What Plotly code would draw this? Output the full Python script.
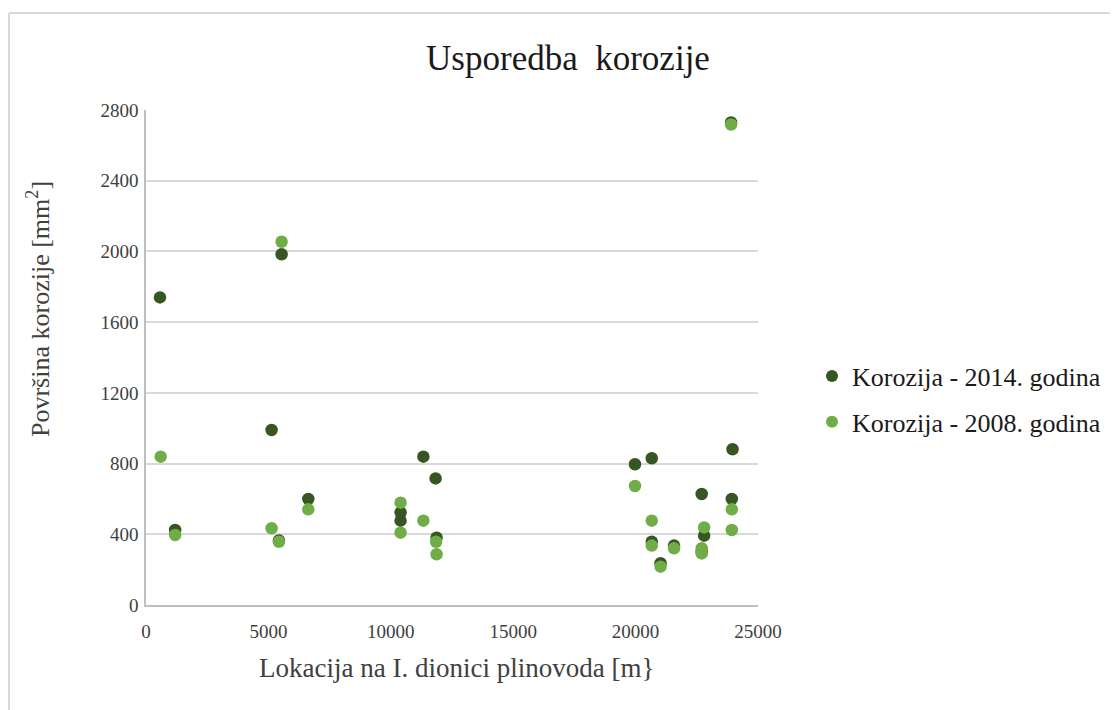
import plotly.graph_objects as go

# Korozija - 2014. godina
x_2014 = [570, 1190, 5130, 5430, 5540, 6630, 10400, 10400, 11330, 11830, 11870,
          19975, 20660, 20660, 21020, 21570, 22700, 22700, 22800, 23930, 23960, 23900]
y_2014 = [1740, 424, 990, 365, 1984, 600, 524, 477, 839, 716, 381,
          796, 830, 358, 236, 336, 628, 300, 392, 600, 881, 2730]

# Korozija - 2008. godina
x_2008 = [600, 1190, 5130, 5430, 5540, 6630, 10400, 10400, 11330, 11850, 11870,
          19975, 20660, 20660, 21020, 21570, 22700, 22700, 22800, 23930, 23930, 23900]
y_2008 = [839, 396, 434, 358, 2055, 541, 579, 409, 477, 358, 287,
          673, 477, 336, 217, 321, 321, 292, 439, 541, 424, 2718]

y_ticks = [0, 400, 800, 1200, 1600, 2000, 2400, 2800]
x_ticks = [0, 5000, 10000, 15000, 20000, 25000]

FONT = "Liberation Serif, Times New Roman, serif"
DARK = "#375623"
LIGHT = "#70AD47"

fig = go.Figure()
fig.add_trace(go.Scatter(x=x_2014, y=y_2014, mode="markers", name="Korozija - 2014. godina",
                         legendgroup="a",
                         marker=dict(color=DARK, size=12.5, line=dict(width=0))))
fig.add_trace(go.Scatter(x=x_2008, y=y_2008, mode="markers", name="Korozija - 2008. godina",
                         legendgroup="b",
                         marker=dict(color=LIGHT, size=12.5, line=dict(width=0))))

OFF = 8  # page body margin
PW, PH = 758 - 146, 605 - 110
L, T = 146 - OFF, 110 - OFF
R = 1118 - L - PW
B = 710 - T - PH


def px(xp):
    return (xp - 146) / PW


def py(yp):
    return (605 - yp) / PH


fig.update_layout(
    width=1118, height=710,
    margin=dict(l=L, r=R, t=T, b=B),
    paper_bgcolor="white", plot_bgcolor="white",
    font=dict(family=FONT, color="#404040", size=19),
    title=dict(text="Usporedba  korozije", x=(568 - OFF) / 1118, xanchor="center",
               y=1 - (58 - OFF) / 710, yanchor="middle",
               font=dict(family=FONT, size=35, color="#1a1a1a")),
    showlegend=True,
    legend=dict(x=px(812), y=py(399), xanchor="left", yanchor="middle",
                font=dict(family=FONT, size=26, color="#1a1a1a"),
                tracegroupgap=9, itemsizing="constant", bgcolor="rgba(0,0,0,0)"),
    xaxis=dict(range=[0, 25000], tickvals=x_ticks, ticktext=[str(v) for v in x_ticks],
               showgrid=False, zeroline=False, showline=True, linecolor="#bfbfbf", linewidth=1.5,
               ticks="", ticklabelstandoff=8,
               tickfont=dict(family=FONT, size=19, color="#404040")),
    yaxis=dict(range=[0, 2800], tickvals=y_ticks, ticktext=[str(v) for v in y_ticks],
               showgrid=True, gridcolor="#d9d9d9", gridwidth=1.5, zeroline=False,
               showline=True, linecolor="#bfbfbf", linewidth=1.5,
               ticks="", ticklabelstandoff=2,
               tickfont=dict(family=FONT, size=19, color="#404040")),
    annotations=[
        dict(text="Lokacija na I. dionici plinovoda [m}", xref="paper", yref="paper",
             x=px(456), y=py(668), xanchor="center", yanchor="middle", showarrow=False,
             font=dict(family=FONT, size=27, color="#404040")),
        dict(text="Površina korozije [mm<sup>2</sup>]", xref="paper", yref="paper",
             x=px(38), y=py(309), xanchor="center", yanchor="middle", showarrow=False,
             textangle=-90, font=dict(family=FONT, size=26, color="#404040")),
    ],
    shapes=[
        dict(type="line", xref="paper", yref="paper", x0=px(9), x1=px(9), y0=py(720), y1=py(13),
             line=dict(color="#d9d9d9", width=2)),
        dict(type="line", xref="paper", yref="paper", x0=px(9), x1=px(1130), y0=py(13), y1=py(13),
             line=dict(color="#d9d9d9", width=2)),
    ],
)

fig.write_html("out.html")
